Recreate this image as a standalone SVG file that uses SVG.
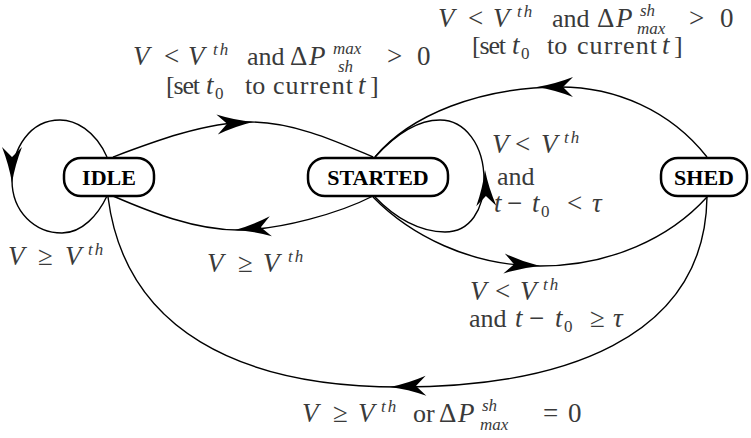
<svg xmlns="http://www.w3.org/2000/svg" width="751" height="438" viewBox="0 0 751 438">
<style>
.node rect{fill:#fff;stroke:#000;stroke-width:2.5}
.node text{font-family:"Liberation Serif","Times New Roman",serif;font-weight:bold;font-size:22px;fill:#000;text-anchor:middle}
.edge{fill:none;stroke:#000;stroke-width:1.4}
.ah{fill:#000}
.lb{font-family:"Liberation Serif","Times New Roman",serif;font-size:26px;fill:#3a3a3a}
.i{font-style:italic;font-size:27px}
.r{font-size:27px}
.s{font-size:17px}
.th{letter-spacing:2px}
</style>
<defs>
<path id="ah" d="M0,0 Q-18,-3 -36,-10 L-26,0 L-36,10 Q-18,3 0,0 Z"/>
</defs>
<g id="connectors">
<path class="edge" d="M113,157 C150,143 205,122 250,122 C295,122 340,143 373,157"/>
<path class="edge" d="M373,196 C340,213 280,230 238,230 C195,230 150,212 113,196"/>
<path class="edge" d="M107,157 C95,130 75,120 60,120 C30,120 12,148 12,180 C12,212 35,233 62,233 C82,233 98,215 107,196"/>
<path class="edge" d="M375,197 C395,218 420,232 445,232 C470,232 484,210 484,180 C484,145 465,120 440,120 C418,120 395,135 375,157"/>
<path class="edge" d="M707,157 C670,110 615,87 560,87 C480,87 410,115 375,157"/>
<path class="edge" d="M373,197 C410,235 470,266 540,266 C610,266 670,238 707,197"/>
<path class="edge" d="M707,197 C705,340 560,387 400,387 C240,387 125,330 108,197"/>
<use class="ah" href="#ah" transform="translate(253,122) rotate(-4)"/>
<use class="ah" href="#ah" transform="translate(235,230) rotate(174)"/>
<use class="ah" href="#ah" transform="translate(12,183) rotate(90)"/>
<use class="ah" href="#ah" transform="translate(485,170) rotate(-92)"/>
<use class="ah" href="#ah" transform="translate(537,87) rotate(180)"/>
<use class="ah" href="#ah" transform="translate(540,266) rotate(4)"/>
<use class="ah" href="#ah" transform="translate(390,387) rotate(178)"/>
</g>
<g id="idle" class="node"><rect x="64" y="158" width="90" height="38" rx="17"/><text x="109" y="185">IDLE</text></g>
<g id="started" class="node"><rect x="308" y="158" width="140" height="38" rx="17"/><text x="378" y="185">STARTED</text></g>
<g id="shed" class="node"><rect x="661" y="158" width="86" height="38" rx="17"/><text x="704" y="185">SHED</text></g>
<g id="labels">
<text class="lb"><tspan class="i" x="133" y="65">V</tspan><tspan class="r" x="164" y="65">&lt;</tspan><tspan class="i" x="188" y="65">V</tspan><tspan class="i s th" x="213" y="55">th</tspan><tspan x="247" y="65">and</tspan><tspan class="r" x="290" y="65">Δ</tspan><tspan class="i" x="309" y="65">P</tspan><tspan class="i s" x="333" y="54">max</tspan><tspan class="i s" x="338" y="72">sh</tspan><tspan class="r" x="387" y="65">&gt;</tspan><tspan class="r" x="417" y="65">0</tspan></text>
<text class="lb"><tspan x="166" y="94" textLength="34">[set</tspan><tspan class="i" x="206" y="94">t</tspan><tspan class="s" x="215" y="99">0</tspan><tspan x="245" y="94">to</tspan><tspan x="273" y="94" textLength="80">current</tspan><tspan class="i" x="358" y="94">t</tspan><tspan x="370" y="94">]</tspan></text>
<text class="lb"><tspan class="i" x="438" y="27">V</tspan><tspan class="r" x="468" y="27">&lt;</tspan><tspan class="i" x="493" y="27">V</tspan><tspan class="i s th" x="517" y="17">th</tspan><tspan x="552" y="27">and</tspan><tspan class="r" x="597" y="27">Δ</tspan><tspan class="i" x="616" y="27">P</tspan><tspan class="i s" x="640" y="16">sh</tspan><tspan class="i s" x="637" y="34">max</tspan><tspan class="r" x="689" y="27">&gt;</tspan><tspan class="r" x="720" y="27">0</tspan></text>
<text class="lb"><tspan x="472" y="54" textLength="34">[set</tspan><tspan class="i" x="512" y="54">t</tspan><tspan class="s" x="521" y="59">0</tspan><tspan x="547" y="54">to</tspan><tspan x="577" y="54" textLength="80">current</tspan><tspan class="i" x="662" y="54">t</tspan><tspan x="674" y="54">]</tspan></text>
<text class="lb"><tspan class="i" x="492" y="153">V</tspan><tspan class="r" x="515" y="153">&lt;</tspan><tspan class="i" x="541" y="153">V</tspan><tspan class="i s th" x="564" y="143">th</tspan></text>
<text class="lb" x="497" y="185">and</text>
<text class="lb"><tspan class="i" x="494" y="212">t</tspan><tspan class="r" x="507" y="212">−</tspan><tspan class="i" x="532" y="212">t</tspan><tspan class="s" x="541" y="217">0</tspan><tspan class="r" x="567" y="212">&lt;</tspan><tspan class="i" x="592" y="212">τ</tspan></text>
<text class="lb"><tspan class="i" x="8" y="265">V</tspan><tspan class="r" x="38" y="265">≥</tspan><tspan class="i" x="65" y="265">V</tspan><tspan class="i s th" x="88" y="255">th</tspan></text>
<text class="lb"><tspan class="i" x="207" y="272">V</tspan><tspan class="r" x="238" y="272">≥</tspan><tspan class="i" x="263" y="272">V</tspan><tspan class="i s th" x="288" y="262">th</tspan></text>
<text class="lb"><tspan class="i" x="470" y="300">V</tspan><tspan class="r" x="495" y="300">&lt;</tspan><tspan class="i" x="520" y="300">V</tspan><tspan class="i s th" x="543" y="290">th</tspan></text>
<text class="lb"><tspan x="469" y="327">and</tspan><tspan class="i" x="515" y="327">t</tspan><tspan class="r" x="529" y="327">−</tspan><tspan class="i" x="555" y="327">t</tspan><tspan class="s" x="564" y="332">0</tspan><tspan class="r" x="590" y="327">≥</tspan><tspan class="i" x="613" y="327">τ</tspan></text>
<text class="lb"><tspan class="i" x="302" y="422">V</tspan><tspan class="r" x="333" y="422">≥</tspan><tspan class="i" x="358" y="422">V</tspan><tspan class="i s th" x="381" y="412">th</tspan><tspan x="413" y="422">or</tspan><tspan class="r" x="439" y="422">Δ</tspan><tspan class="i" x="458" y="422">P</tspan><tspan class="i s" x="482" y="411">sh</tspan><tspan class="i s" x="480" y="430">max</tspan><tspan class="r" x="543" y="422">=</tspan><tspan class="r" x="568" y="422">0</tspan></text>
</g>
</svg>
